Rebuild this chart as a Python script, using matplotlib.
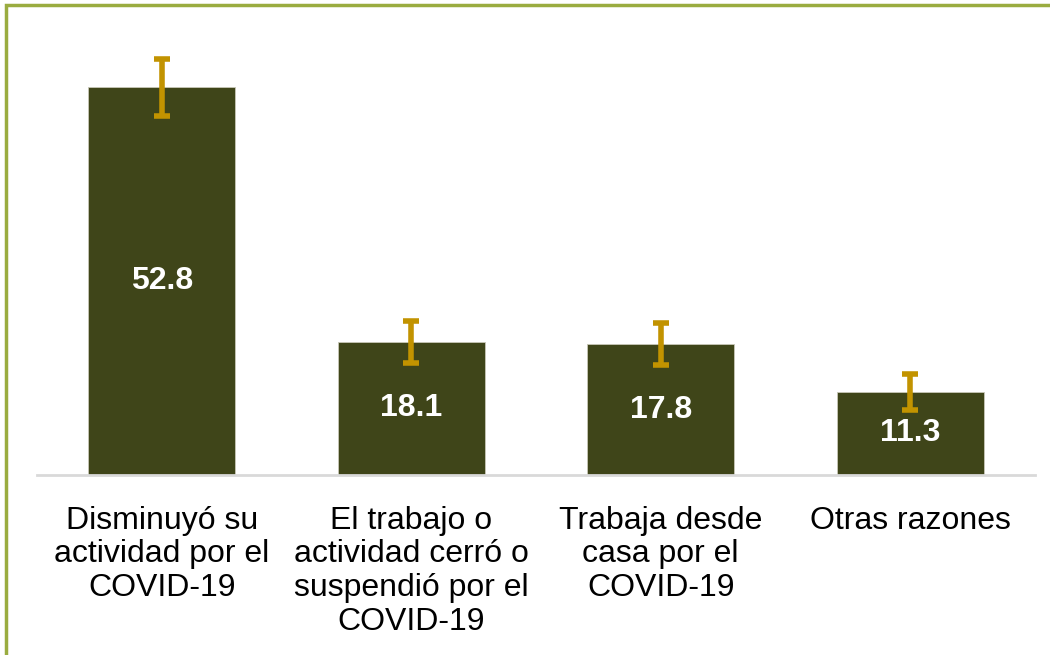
import matplotlib
matplotlib.use('Agg')
import matplotlib.pyplot as plt
from matplotlib.patches import Rectangle

plt.rcParams['font.family'] = ['Liberation Sans', 'DejaVu Sans']

# data
categories = ["Disminuyó su\nactividad por el\nCOVID-19",
              "El trabajo o\nactividad cerró o\nsuspendió por el\nCOVID-19",
              "Trabaja desde\ncasa por el\nCOVID-19",
              "Otras razones"]
values = [52.8, 18.1, 17.8, 11.3]
err_low = [4.0, 2.9, 2.9, 2.5]
err_high = [3.8, 2.9, 2.9, 2.5]

bar_color = '#3f4519'
err_color = '#c29300'
border_color = '#9aac40'

fig = plt.figure(figsize=(10.5, 6.55), dpi=100)
ax = fig.add_axes([37/1050, 180/655, 998/1050, 455/655])

x = range(len(values))
ax.bar(x, values, width=0.59, color=bar_color, edgecolor='#c8c8b8', linewidth=0.6, zorder=2)
ax.errorbar(x, values, yerr=[err_low, err_high], fmt='none', ecolor=err_color,
            elinewidth=4, capsize=5.5, capthick=4, zorder=3)

for i, v in enumerate(values):
    ax.text(i, v / 2, f"{v:.1f}", ha='center', va='center', color='white',
            fontsize=23, fontweight='bold', zorder=4)

ax.set_xlim(-0.5, 3.5)
ax.set_ylim(0, 455 / 7.35)
ax.set_yticks([])
ax.set_xticks(list(x))
ax.set_xticklabels(categories, fontsize=23, linespacing=1.17, va='top')
ax.tick_params(axis='x', length=0, pad=22)
for s in ['top', 'right', 'left']:
    ax.spines[s].set_visible(False)
ax.spines['bottom'].set_color('#d9d9d9')
ax.spines['bottom'].set_linewidth(2)

# frame around the figure, cut at the right and bottom edges
fig.patches.append(Rectangle((6/1050, -0.1), 1.2, (655-5)/655 + 0.1, transform=fig.transFigure,
                             fill=False, edgecolor=border_color, linewidth=2.5))

plt.savefig("out.png", dpi=100)
